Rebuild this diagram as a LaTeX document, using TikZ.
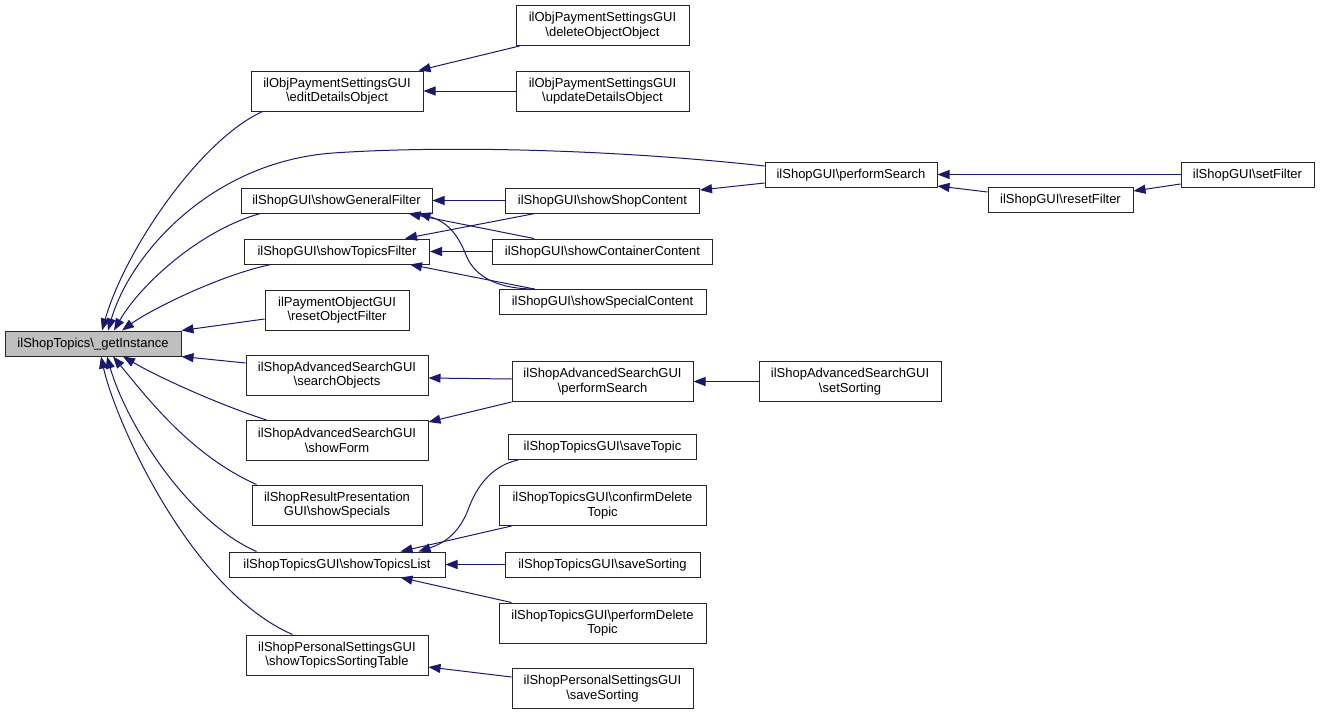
\documentclass[tikz,border=0pt]{standalone}
\usepackage{fontspec}
\setmainfont{Liberation Sans}
\usetikzlibrary{arrows.meta}
\definecolor{edgec}{HTML}{191970}
\definecolor{rootfill}{HTML}{BFBFBF}
\begin{document}
\begin{tikzpicture}[x=1pt,y=-1pt,
  box/.style={draw=black!85, line width=1pt, fill=white, inner sep=0pt, align=center,
    font=\fontsize{13}{14.5}\selectfont},
  one/.style={box, text height=10.3pt, text depth=2.5pt, minimum height=25pt},
  two/.style={box, minimum height=40pt},
  arr/.style={draw=edgec, line width=1pt, {Triangle[length=12pt,width=9pt]}-}]
\useasboundingbox[fill=white] (0,0) rectangle (1320,715);
% nodes
\node[one, fill=rootfill, minimum width=176pt] (root) at (93,343.5) {ilShopTopics\textbackslash\_getInstance};
\node[two, minimum width=172pt] (ed) at (337,91) {ilObjPaymentSettingsGUI\\\textbackslash editDetailsObject};
\node[two, minimum width=173pt] (del) at (602.5,25.5) {ilObjPaymentSettingsGUI\\\textbackslash deleteObjectObject};
\node[two, minimum width=173pt] (upd) at (602.5,91) {ilObjPaymentSettingsGUI\\\textbackslash updateDetailsObject};
\node[one, minimum width=172pt] (ps) at (851,174.5) {ilShopGUI\textbackslash performSearch};
\node[one, minimum width=133pt] (sf) at (1247.5,174.5) {ilShopGUI\textbackslash setFilter};
\node[one, minimum width=145pt] (rf) at (1060.5,199.5) {ilShopGUI\textbackslash resetFilter};
\node[one, minimum width=191pt] (sgf) at (336.5,200.5) {ilShopGUI\textbackslash showGeneralFilter};
\node[one, minimum width=194pt] (ssc) at (602.5,200.5) {ilShopGUI\textbackslash showShopContent};
\node[one, minimum width=185pt] (stf) at (337,251.5) {ilShopGUI\textbackslash showTopicsFilter};
\node[one, minimum width=220pt] (scc) at (602.5,251.5) {ilShopGUI\textbackslash showContainerContent};
\node[one, minimum width=207pt] (ssp) at (602.5,302) {ilShopGUI\textbackslash showSpecialContent};
\node[two, minimum width=144pt] (rof) at (337,310) {ilPaymentObjectGUI\\\textbackslash resetObjectFilter};
\node[two, minimum width=182pt] (so) at (337,375) {ilShopAdvancedSearchGUI\\\textbackslash searchObjects};
\node[two, minimum width=181pt] (asps) at (602.5,381.5) {ilShopAdvancedSearchGUI\\\textbackslash performSearch};
\node[two, minimum width=182pt] (ass) at (850,381.5) {ilShopAdvancedSearchGUI\\\textbackslash setSorting};
\node[two, minimum width=182pt] (sfm) at (337,440.5) {ilShopAdvancedSearchGUI\\\textbackslash showForm};
\node[one, minimum width=188pt] (st) at (602.5,447) {ilShopTopicsGUI\textbackslash saveTopic};
\node[two, minimum width=170pt] (ssp2) at (337,505) {ilShopResultPresentation\\GUI\textbackslash showSpecials};
\node[two, minimum width=207pt] (cdt) at (602.5,505.5) {ilShopTopicsGUI\textbackslash confirmDelete\\Topic};
\node[one, minimum width=216pt] (stl) at (337,564.5) {ilShopTopicsGUI\textbackslash showTopicsList};
\node[one, minimum width=195pt] (tss) at (602.5,564.5) {ilShopTopicsGUI\textbackslash saveSorting};
\node[two, minimum width=207pt] (pdt) at (602.5,623) {ilShopTopicsGUI\textbackslash performDelete\\Topic};
\node[two, minimum width=182pt] (stst) at (337,655) {ilShopPersonalSettingsGUI\\\textbackslash showTopicsSortingTable};
\node[two, minimum width=181pt] (pss) at (602.5,688.5) {ilShopPersonalSettingsGUI\\\textbackslash saveSorting};
% edges from root
\draw[arr] ([xshift=9pt]root.north) .. controls (125,250) and (200,140) .. ([xshift=12pt]ed.south west);
\draw[arr] ([xshift=15pt]root.north) .. controls (130,255) and (210,162) .. (333,153) .. controls (450,145) and (620,150) .. ([yshift=8.5pt]ps.west);
\draw[arr] ([xshift=21pt]root.north) .. controls (140,285) and (200,230) .. ([xshift=20pt]sgf.south west);
\draw[arr] ([xshift=29pt]root.north) .. controls (150,310) and (220,275) .. ([xshift=27pt]stf.south west);
\draw[arr] (root.north east) -- ([yshift=-9pt]rof.west);
\draw[arr] (root.south east) -- ([yshift=12pt]so.west);
\draw[arr] ([xshift=30pt]root.south) .. controls (160,378) and (220,405) .. ([xshift=21pt]sfm.north west);
\draw[arr] ([xshift=20pt]root.south) .. controls (145,395) and (190,455) .. ([xshift=5pt]ssp2.north west);
\draw[arr] ([xshift=14pt]root.south) .. controls (125,420) and (185,520) .. ([xshift=28pt]stl.north west);
\draw[arr] ([xshift=8pt]root.south) .. controls (115,420) and (190,590) .. ([xshift=47pt]stst.north west);
% other edges
\draw[arr] ([xshift=-5pt]ed.north east) -- ([xshift=4pt]del.south west);
\draw[arr] (ed.east) -- (upd.west);
\draw[arr] (ps.east) -- (sf.west);
\draw[arr] ([yshift=-11.5pt]ps.east) -- ([yshift=7.5pt]rf.west);
\draw[arr] ([yshift=8.5pt]rf.east) -- ([yshift=-9.5pt]sf.west);
\draw[arr] ([yshift=10.5pt]ssc.east) -- ([yshift=-8.5pt]ps.west);
\draw[arr] (sgf.east) -- (ssc.west);
\draw[arr] ([xshift=-24pt]sgf.south east) -- ([xshift=42pt]scc.north west);
\draw[arr] ([xshift=-14pt]sgf.south east) .. controls (448,222) and (458,235) .. (466,255) .. controls (475,278) and (500,289) .. ([xshift=36pt]ssp.north west);
\draw[arr] ([xshift=-25pt]stf.north east) -- ([xshift=30pt]ssc.south west);
\draw[arr] (stf.east) -- (scc.west);
\draw[arr] ([xshift=-20pt]stf.south east) -- ([xshift=36pt]ssp.north west);
\draw[arr] ([yshift=-3pt]so.east) -- ([yshift=2.5pt]asps.west);
\draw[arr] ([yshift=-2pt]sfm.north east) -- (asps.south west);
\draw[arr] (asps.east) -- (ass.west);
\draw[arr] ([xshift=-27pt]stl.north east) .. controls (448,542) and (460,530) .. (468,510) .. controls (478,482) and (495,465) .. ([xshift=10pt]st.south west);
\draw[arr] ([xshift=-45pt]stl.north east) -- ([xshift=13pt]cdt.south west);
\draw[arr] (stl.east) -- (tss.west);
\draw[arr] ([xshift=-45pt]stl.south east) -- ([xshift=13pt]pdt.north west);
\draw[arr] ([yshift=-12pt]stst.east) -- ([yshift=11.5pt]pss.west);
\end{tikzpicture}
\end{document}
